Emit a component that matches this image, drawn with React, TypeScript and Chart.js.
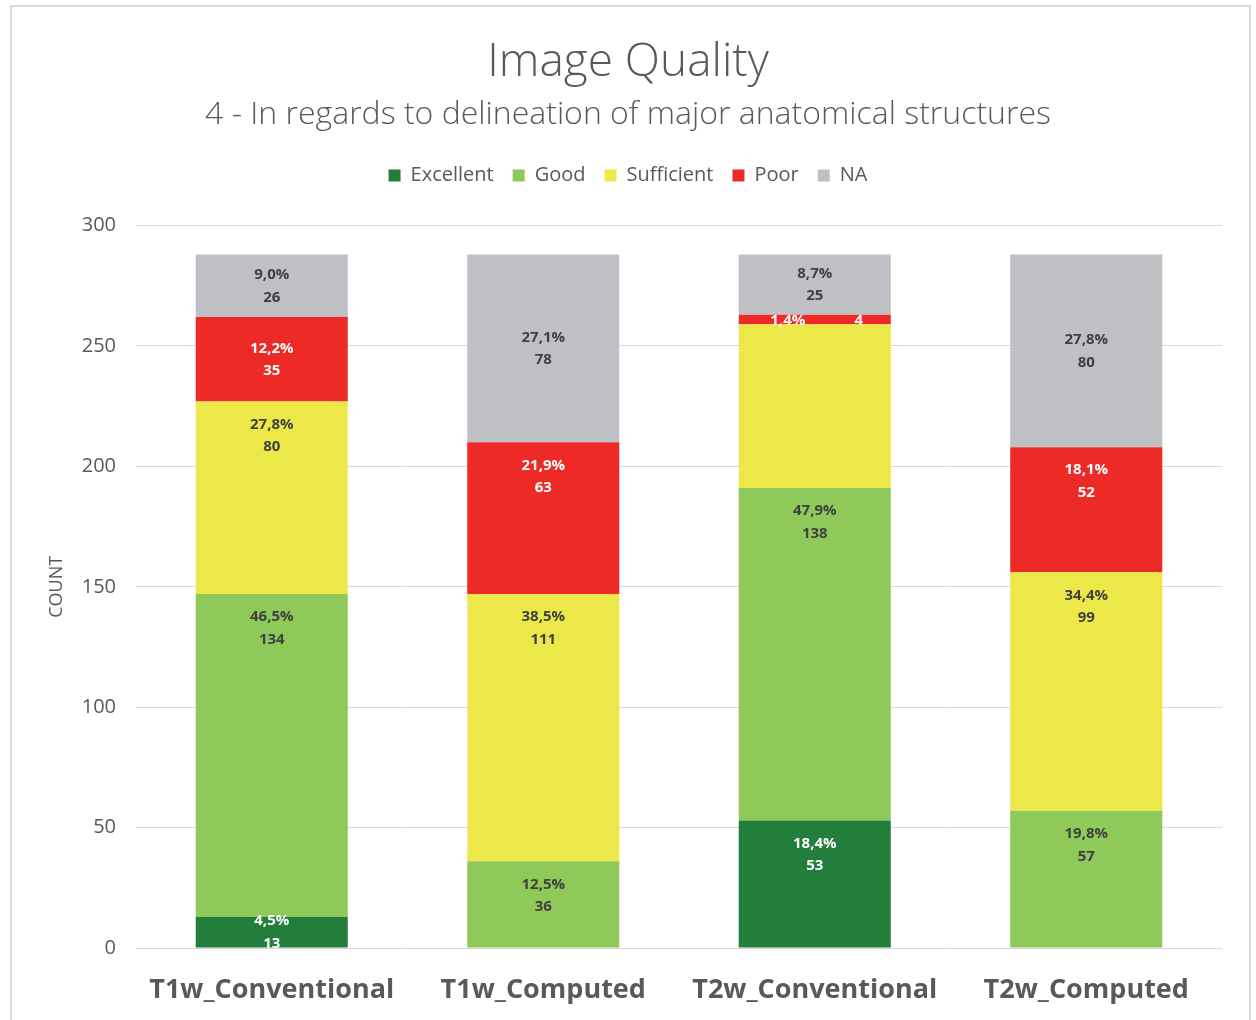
import React, { useEffect, useRef } from "react";
import { Chart, registerables, layouts } from "chart.js";

Chart.register(...registerables);

const categories = ["T1w_Conventional", "T1w_Computed", "T2w_Conventional", "T2w_Computed"];
const excellent = [13, 0, 53, 0];
const good = [134, 36, 138, 57];
const sufficient = [80, 111, 68, 99];
const poor = [35, 63, 4, 52];
const na = [26, 78, 25, 80];
const seriesNames = ["Excellent", "Good", "Sufficient", "Poor", "NA"];
const seriesColors = ["#237E3C", "#8FC95A", "#EDE84A", "#EE2A27", "#BFC0C4"];
const labelColors = ["#FFFFFF", "#404040", "#404040", "#FFFFFF", "#404040"];
// labels Excel left hidden: [series, category]
const hiddenLabels: [string, string][] = [["Sufficient", "T2w_Conventional"]];
const yTicks = { min: 0, max: 300, step: 50 };

const FONT = "'Open Sans', sans-serif";
const GREY = "#595959";
const TOP_SPACER = 30;
const RIGHT_SPACER = 34;

function makeSpacer(position: string, size: number) {
  const horizontal = position === "top" || position === "bottom";
  return {
    position,
    weight: 100,
    fullSize: horizontal,
    options: {},
    top: 0, left: 0, right: 0, bottom: 0, width: 0, height: 0,
    isHorizontal() { return horizontal; },
    update(this: any, maxWidth: number, maxHeight: number) {
      if (horizontal) { this.width = maxWidth; this.height = size; }
      else { this.width = size; this.height = maxHeight; }
    },
    draw() {},
  };
}

const spacerPlugin = {
  id: "spacer",
  beforeInit(chart: any) {
    layouts.addBox(chart, makeSpacer("top", TOP_SPACER) as any);
    layouts.addBox(chart, makeSpacer("right", RIGHT_SPACER) as any);
  },
};

const framePlugin = {
  id: "frame",
  beforeDraw(chart: any) {
    const ctx = chart.ctx;
    ctx.save();
    ctx.fillStyle = "#ffffff";
    ctx.fillRect(0, 0, chart.width, chart.height);
    ctx.strokeStyle = "#d9d9d9";
    ctx.lineWidth = 2;
    ctx.strokeRect(11, 6, 1239, 1030);
    ctx.restore();
  },
};

const labelPlugin = {
  id: "segLabels",
  afterDatasetsDraw(chart: any) {
    const ctx = chart.ctx;
    const area = chart.chartArea;
    const datasets = chart.data.datasets;
    const totals = categories.map((_, j) =>
      datasets.reduce((s: number, d: any) => s + (d.data[j] || 0), 0)
    );
    ctx.save();
    ctx.beginPath();
    ctx.rect(area.left, area.top, area.right - area.left, area.bottom - area.top);
    ctx.clip();
    ctx.font = `bold 15px ${FONT}`;
    ctx.textAlign = "center";
    ctx.textBaseline = "middle";
    datasets.forEach((ds: any, i: number) => {
      const meta = chart.getDatasetMeta(i);
      meta.data.forEach((bar: any, j: number) => {
        const v = ds.data[j];
        if (!v) return;
        if (hiddenLabels.some(([s, c]) => s === ds.label && c === categories[j])) return;
        const pct = ((v / totals[j]) * 100).toFixed(1).replace(".", ",") + "%";
        const count = String(v);
        const top = Math.min(bar.y, bar.base);
        const bottom = Math.max(bar.y, bar.base);
        const h = bottom - top;
        const cy = (top + bottom) / 2;
        ctx.fillStyle = labelColors[i];
        if (h < 20) {
          ctx.fillText(pct, bar.x - 27, cy + 1);
          ctx.fillText(count, bar.x + 44, cy + 1);
          return;
        }
        let y1: number;
        if (ds.label === "NA" || h < 86) {
          y1 = cy - 11;
        } else {
          y1 = top + 23;
        }
        ctx.fillText(pct, bar.x, y1);
        ctx.fillText(count, bar.x, y1 + 22.5);
      });
    });
    ctx.restore();
  },
};

export default function App() {
  const canvasRef = useRef<HTMLCanvasElement | null>(null);

  useEffect(() => {
    if (!canvasRef.current) return;
    const values = [excellent, good, sufficient, poor, na];
    const chart = new Chart(canvasRef.current, {
      type: "bar",
      data: {
        labels: categories,
        datasets: seriesNames.map((name, i) => ({
          label: name,
          data: values[i],
          backgroundColor: seriesColors[i],
          borderWidth: 0,
          barPercentage: 0.56,
          categoryPercentage: 1,
        })),
      },
      options: {
        animation: false,
        responsive: true,
        maintainAspectRatio: false,
        layout: { padding: { left: 0, right: 0, top: 0, bottom: 0 } },
        font: { family: FONT },
        plugins: {
          title: {
            display: true,
            text: "Image Quality",
            color: GREY,
            font: { family: FONT, size: 46, weight: "300" as any },
            padding: { top: 35, bottom: 5 },
          },
          subtitle: {
            display: true,
            text: "4 - In regards to delineation of major anatomical structures",
            color: GREY,
            font: { family: FONT, size: 32, weight: "300" as any },
            padding: { top: 0, bottom: 13 },
          },
          legend: {
            display: true,
            position: "top",
            labels: {
              color: GREY,
              font: { family: FONT, size: 20 },
              boxWidth: 12,
              boxHeight: 12,
              padding: 19,
            },
          },
          tooltip: { enabled: false },
        },
        scales: {
          x: {
            stacked: true,
            grid: { display: false, drawTicks: false },
            border: { display: false },
            ticks: {
              color: GREY,
              font: { family: FONT, size: 27, weight: "bold" },
              padding: 26,
            },
            afterFit(scale: any) { scale.height = 72; },
          },
          y: {
            stacked: true,
            min: yTicks.min,
            max: yTicks.max,
            grid: { color: "#d9d9d9", lineWidth: 1, drawTicks: false },
            border: { display: false },
            ticks: {
              stepSize: yTicks.step,
              color: GREY,
              font: { family: FONT, size: 20 },
              padding: 20,
            },
            title: {
              display: true,
              text: "COUNT",
              color: GREY,
              font: { family: FONT, size: 18 },
              padding: { top: 46, bottom: 0 },
            },
            afterFit(scale: any) { scale.width = 136; },
          },
        },
      },
      plugins: [spacerPlugin, framePlugin, labelPlugin],
    });
    return () => chart.destroy();
  }, []);

  return (
    <div style={{ position: "fixed", left: 0, top: 0, width: 1256, height: 1020, background: "#fff" }}>
      <canvas ref={canvasRef} />
    </div>
  );
}
